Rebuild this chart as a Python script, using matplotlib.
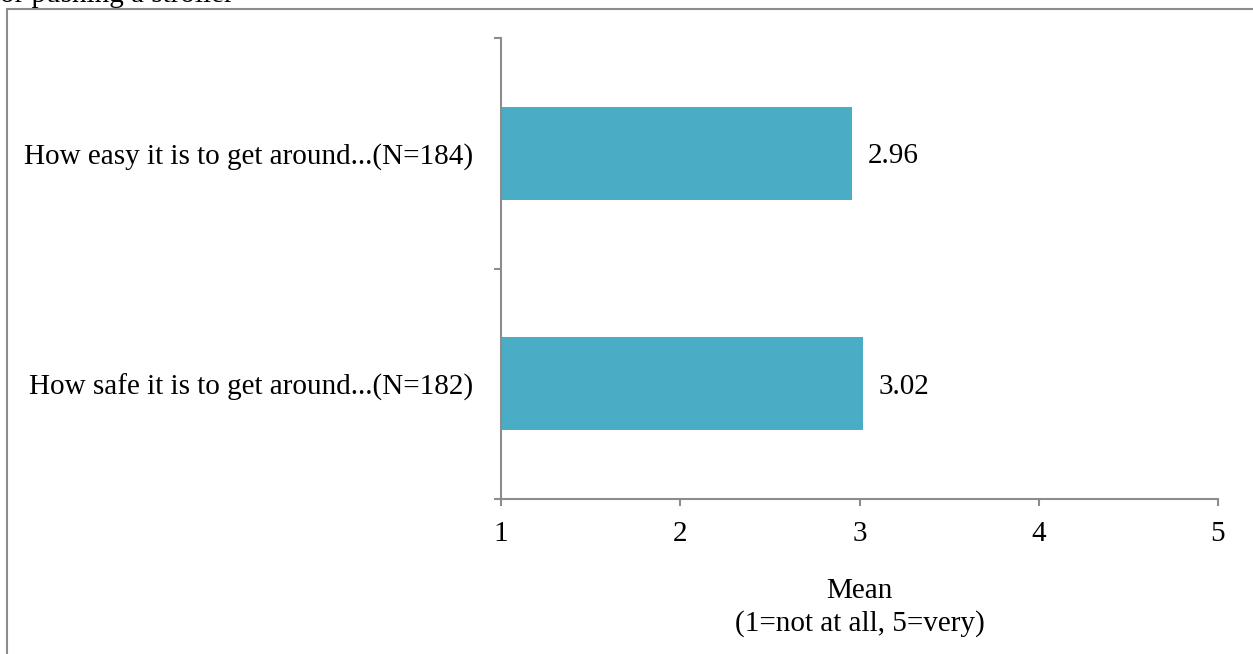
import matplotlib
matplotlib.use('Agg')
import matplotlib.pyplot as plt
from matplotlib.patches import Rectangle

# --- data ---
labels = ['How safe it is to get around...(N=182)', 'How easy it is to get around...(N=184)']
means = [3.02, 2.96]
xticks = [1, 2, 3, 4, 5]

BAR = '#4BACC6'
GREY = '#8C8C8C'
FS = 21
plt.rcParams['font.family'] = ['Liberation Serif', 'DejaVu Serif']

fig = plt.figure(figsize=(12.53, 6.54), dpi=100)
ax = fig.add_axes([501 / 1253, 1 - 499 / 654, (1218 - 501) / 1253, (499 - 38) / 654])

y = list(range(len(labels)))
ax.barh(y, [m - 1 for m in means], left=1, height=0.405, color=BAR)
for yi, m in zip(y, means):
    ax.text(m + 0.085, yi, f'{m:.2f}', va='center_baseline', ha='left', fontsize=FS)

ax.set_xlim(1, 5)
ax.set_ylim(-0.5, len(labels) - 0.5)
ax.set_xticks(xticks)
ax.set_xticklabels([str(t) for t in xticks], fontsize=FS)
ax.set_yticks([-0.5, 0.5, 1.5])
ax.set_yticklabels([])
ax.set_yticks(y, minor=True)
ax.set_yticklabels(labels, minor=True, fontsize=FS)
ax.tick_params(axis='y', which='minor', length=0, pad=20)
ax.tick_params(axis='y', which='major', length=5, width=1.5, color=GREY)
ax.tick_params(axis='x', length=5, width=1.5, color=GREY, pad=11)

for s in ['top', 'right']:
    ax.spines[s].set_visible(False)
for s in ['left', 'bottom']:
    ax.spines[s].set_color(GREY)
    ax.spines[s].set_linewidth(1.5)

ax.set_xlabel('Mean\n(1=not at all, 5=very)', fontsize=FS, labelpad=22, linespacing=1.32)

# outer frame and clipped caption line above it
fig.patches.append(Rectangle((7 / 1253, -0.05), 1.1, 1 - 9 / 654 + 0.05,
                             transform=fig.transFigure, fill=False,
                             edgecolor=GREY, linewidth=1.5))
fig.text(0.0, 1 - 2 / 654, 'or pushing a stroller', fontsize=FS, va='baseline', ha='left')

fig.savefig('out.png', dpi=100)
